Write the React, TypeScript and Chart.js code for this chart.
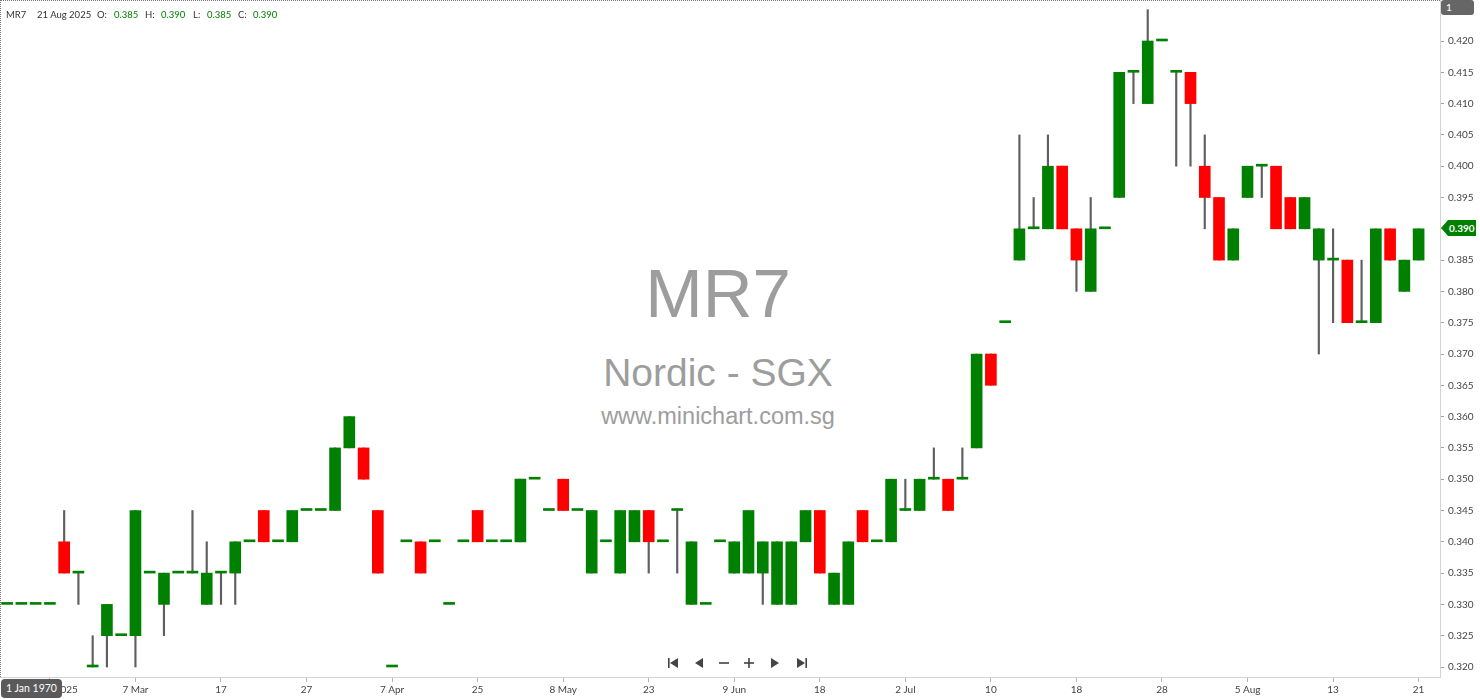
import React, { useEffect, useRef } from 'react';
import { Chart, registerables } from 'chart.js';

Chart.register(...registerables);

// ---- data ----
const opens = [
  0.330, 0.330, 0.330, 0.330, 0.340, 0.335, 0.320, 0.325, 0.325, 0.325,
  0.335, 0.330, 0.335, 0.335, 0.330, 0.335, 0.335, 0.340, 0.345, 0.340,
  0.340, 0.345, 0.345, 0.345, 0.355, 0.355, 0.345, 0.320, 0.340, 0.340,
  0.340, 0.330, 0.340, 0.345, 0.340, 0.340, 0.340, 0.350, 0.345, 0.350,
  0.345, 0.335, 0.340, 0.335, 0.340, 0.345, 0.340, 0.345, 0.330, 0.330,
  0.340, 0.335, 0.335, 0.335, 0.330, 0.330, 0.340, 0.345, 0.330, 0.330,
  0.345, 0.340, 0.340, 0.345, 0.345, 0.350, 0.350, 0.350, 0.355, 0.370,
  0.375, 0.385, 0.390, 0.390, 0.400, 0.390, 0.380, 0.390, 0.395, 0.415,
  0.410, 0.420, 0.415, 0.415, 0.400, 0.395, 0.385, 0.395, 0.400, 0.400,
  0.395, 0.390, 0.385, 0.385, 0.385, 0.375, 0.375, 0.390, 0.380, 0.385,
];
const highs = [
  0.330, 0.330, 0.330, 0.330, 0.345, 0.335, 0.325, 0.330, 0.325, 0.345,
  0.335, 0.335, 0.335, 0.345, 0.340, 0.335, 0.340, 0.340, 0.345, 0.340,
  0.345, 0.345, 0.345, 0.355, 0.360, 0.355, 0.345, 0.320, 0.340, 0.340,
  0.340, 0.330, 0.340, 0.345, 0.340, 0.340, 0.350, 0.350, 0.345, 0.350,
  0.345, 0.345, 0.340, 0.345, 0.345, 0.345, 0.340, 0.345, 0.340, 0.330,
  0.340, 0.340, 0.345, 0.340, 0.340, 0.340, 0.345, 0.345, 0.335, 0.340,
  0.345, 0.340, 0.350, 0.350, 0.350, 0.355, 0.350, 0.355, 0.370, 0.370,
  0.375, 0.405, 0.395, 0.405, 0.400, 0.390, 0.395, 0.390, 0.415, 0.415,
  0.425, 0.420, 0.415, 0.415, 0.405, 0.395, 0.390, 0.400, 0.400, 0.400,
  0.395, 0.395, 0.390, 0.390, 0.385, 0.385, 0.390, 0.390, 0.385, 0.390,
];
const lows = [
  0.330, 0.330, 0.330, 0.330, 0.335, 0.330, 0.320, 0.320, 0.325, 0.320,
  0.335, 0.325, 0.335, 0.335, 0.330, 0.330, 0.330, 0.340, 0.340, 0.340,
  0.340, 0.345, 0.345, 0.345, 0.355, 0.350, 0.335, 0.320, 0.340, 0.335,
  0.340, 0.330, 0.340, 0.340, 0.340, 0.340, 0.340, 0.350, 0.345, 0.345,
  0.345, 0.335, 0.340, 0.335, 0.340, 0.335, 0.340, 0.335, 0.330, 0.330,
  0.340, 0.335, 0.335, 0.330, 0.330, 0.330, 0.340, 0.335, 0.330, 0.330,
  0.340, 0.340, 0.340, 0.345, 0.345, 0.350, 0.345, 0.350, 0.355, 0.365,
  0.375, 0.385, 0.390, 0.390, 0.390, 0.380, 0.380, 0.390, 0.395, 0.410,
  0.410, 0.420, 0.400, 0.400, 0.390, 0.385, 0.385, 0.395, 0.395, 0.390,
  0.390, 0.390, 0.370, 0.375, 0.375, 0.375, 0.375, 0.385, 0.380, 0.385,
];
const closes = [
  0.330, 0.330, 0.330, 0.330, 0.335, 0.335, 0.320, 0.330, 0.325, 0.345,
  0.335, 0.335, 0.335, 0.335, 0.335, 0.335, 0.340, 0.340, 0.340, 0.340,
  0.345, 0.345, 0.345, 0.355, 0.360, 0.350, 0.335, 0.320, 0.340, 0.335,
  0.340, 0.330, 0.340, 0.340, 0.340, 0.340, 0.350, 0.350, 0.345, 0.345,
  0.345, 0.345, 0.340, 0.345, 0.345, 0.340, 0.340, 0.345, 0.340, 0.330,
  0.340, 0.340, 0.345, 0.340, 0.340, 0.340, 0.345, 0.335, 0.335, 0.340,
  0.340, 0.340, 0.350, 0.345, 0.350, 0.350, 0.345, 0.350, 0.370, 0.365,
  0.375, 0.390, 0.390, 0.400, 0.390, 0.385, 0.390, 0.390, 0.415, 0.415,
  0.420, 0.420, 0.415, 0.410, 0.395, 0.385, 0.390, 0.400, 0.400, 0.390,
  0.390, 0.395, 0.390, 0.385, 0.375, 0.375, 0.390, 0.385, 0.385, 0.390,
];

const xTickIndex = [3, 9, 15, 21, 27, 33, 39, 45, 51, 57, 63, 69, 75, 81, 87, 93, 99];
const xTickText = ['28 Feb 2025', '7 Mar', '17', '27', '7 Apr', '25', '8 May', '23', '9 Jun', '18', '2 Jul', '10', '18', '28', '5 Aug', '13', '21'];

const yTicks = [
  0.320, 0.325, 0.330, 0.335, 0.340, 0.345, 0.350, 0.355, 0.360, 0.365, 0.370,
  0.375, 0.380, 0.385, 0.390, 0.395, 0.400, 0.405, 0.410, 0.415, 0.420,
];
const yMin = 0.318403;
const yMax = 0.42655;

const UP = '#008000';
const DOWN = '#ff0000';
const WICK = '#5f5f5f';

const FONT = 'Lato, "Open Sans", sans-serif';

function NavIcons() {
  const c = '#444';
  return (
    <svg width={150} height={14} style={{ position: 'absolute', left: 665, top: 656 }}>
      <rect x={3} y={2} width={1.6} height={10} fill={c} />
      <polygon points="13,2 13,12 5,7" fill={c} />
      <polygon points="38,2 38,12 30,7" fill={c} />
      <rect x={54} y={6.2} width={10} height={1.6} fill={c} />
      <rect x={79} y={6.2} width={10} height={1.6} fill={c} />
      <rect x={83.2} y={2} width={1.6} height={10} fill={c} />
      <polygon points="106,2 106,12 114,7" fill={c} />
      <polygon points="132,2 132,12 140,7" fill={c} />
      <rect x={140.4} y={2} width={1.6} height={10} fill={c} />
    </svg>
  );
}

export default function App() {
  const canvasRef = useRef<HTMLCanvasElement | null>(null);

  useEffect(() => {
    document.body.style.margin = '0';
    const canvas = canvasRef.current;
    if (!canvas) return;

    const labels = [...opens.map((_, i) => String(i)), ''];
    const tickMap: Record<number, string> = {};
    xTickIndex.forEach((idx, k) => { tickMap[idx] = xTickText[k]; });

    const zeroPad = (s: any) => {
      s.paddingTop = 0; s.paddingBottom = 0; s.paddingLeft = 0; s.paddingRight = 0;
    };

    const chart = new Chart(canvas, {
      type: 'bar',
      data: {
        labels,
        datasets: [
          {
            label: 'wick',
            data: lows.map((l, i) => (highs[i] > l ? [l, highs[i]] : null)) as any,
            backgroundColor: WICK,
            barThickness: 1.5,
            grouped: false,
            order: 2,
          },
          {
            label: 'body',
            data: opens.map((o, i) => [o, closes[i]]) as any,
            backgroundColor: opens.map((o, i) => (closes[i] < o ? DOWN : UP)),
            barThickness: 11,
            minBarLength: 2,
            grouped: false,
            order: 1,
          },
        ],
      },
      options: {
        animation: false,
        responsive: false,
        maintainAspectRatio: false,
        layout: { padding: 0 },
        plugins: {
          legend: { display: false },
          tooltip: { enabled: false },
        },
        scales: {
          x: {
            type: 'category',
            offset: true,
            grid: {
              display: true,
              drawOnChartArea: false,
              drawTicks: true,
              tickLength: 5,
              offset: false,
              color: (ctx: any) => (tickMap[ctx.index] !== undefined ? '#b5b5b5' : 'rgba(0,0,0,0)'),
            },
            border: { color: '#d4d4d4' },
            ticks: {
              autoSkip: false,
              maxRotation: 0,
              minRotation: 0,
              padding: 2,
              color: '#444',
              font: { family: FONT, size: 10 },
              callback: (_v: any, i: number) => tickMap[i] ?? '',
            },
            afterFit: (s: any) => { s.height = 22; zeroPad(s); },
          },
          y: {
            position: 'right',
            min: yMin,
            max: yMax,
            grid: {
              drawOnChartArea: false,
              drawTicks: true,
              tickLength: 4,
              color: '#a0a0a0',
            },
            border: { color: '#d4d4d4' },
            ticks: {
              padding: 4,
              color: '#444',
              font: { family: FONT, size: 10 },
              callback: (v: any) => Number(v).toFixed(3),
            },
            afterBuildTicks: (s: any) => { s.ticks = yTicks.map((v) => ({ value: v })); },
            afterFit: (s: any) => { s.width = 40; zeroPad(s); },
          },
        },
      },
    });
    return () => chart.destroy();
  }, []);

  const hdr = (text: string, left: number, color: string) => (
    <span style={{ position: 'absolute', left, top: 10, fontSize: 9.5, lineHeight: '10px', color, whiteSpace: 'nowrap' }}>{text}</span>
  );

  const wm: React.CSSProperties = {
    position: 'absolute', left: 418, width: 600, textAlign: 'center', color: '#9d9d9d',
    fontFamily: '"Liberation Sans", Arial, sans-serif', lineHeight: 1, whiteSpace: 'nowrap',
  };

  return (
    <div style={{ position: 'fixed', left: 0, top: 0, width: 1480, height: 699, background: '#fff', overflow: 'hidden', fontFamily: FONT }}>
      <div style={{ ...wm, top: 259, fontSize: 69 }}>MR7</div>
      <div style={{ ...wm, top: 353, fontSize: 39 }}>Nordic - SGX</div>
      <div style={{ ...wm, top: 405, fontSize: 23.5 }}>www.minichart.com.sg</div>

      <canvas ref={canvasRef} width={1480} height={699} style={{ position: 'absolute', left: 0, top: 0, width: 1480, height: 699 }} />

      <div style={{ position: 'absolute', left: 0, top: 0, width: 1440, height: 677, borderTop: '1px dotted #777', borderLeft: '1px dotted #777', boxSizing: 'border-box', pointerEvents: 'none' }} />

      {hdr('MR7', 6, '#333')}
      {hdr('21 Aug 2025', 37, '#333')}
      {hdr('O:', 97, '#333')}
      {hdr('0.385', 114, UP)}
      {hdr('H:', 145, '#333')}
      {hdr('0.390', 161, UP)}
      {hdr('L:', 193, '#333')}
      {hdr('0.385', 207, UP)}
      {hdr('C:', 238, '#333')}
      {hdr('0.390', 253, UP)}

      <div style={{ position: 'absolute', left: 1441, top: 0, width: 33, height: 15, background: '#666', borderRadius: 3, color: '#fff', fontSize: 10, lineHeight: '15px', paddingLeft: 5, boxSizing: 'border-box' }}>1</div>

      <div style={{ position: 'absolute', left: 1441, top: 220, width: 35, height: 16, background: UP, clipPath: 'polygon(0 50%, 7px 0, 100% 0, 100% 100%, 7px 100%)', color: '#fff', fontSize: 10, lineHeight: '16px', paddingLeft: 8, boxSizing: 'border-box', fontWeight: 700 }}>0.390</div>

      <div style={{ position: 'absolute', left: 1, top: 679, width: 61, height: 19, background: '#5a5a5a', borderRadius: 4, color: '#fff', fontSize: 10.5, lineHeight: '19px', textAlign: 'center' }}>1 Jan 1970</div>

      <NavIcons />
    </div>
  );
}
